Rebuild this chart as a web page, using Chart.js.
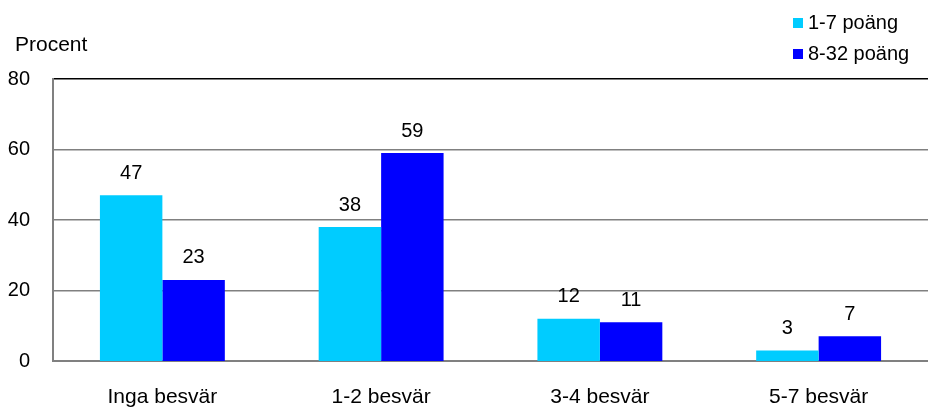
<!DOCTYPE html>
<html>
<head>
<meta charset="utf-8">
<script src="https://cdn.jsdelivr.net/npm/chart.js@4"></script>
<style>
  html, body { margin: 0; padding: 0; background: #fff; }
  #wrap { position: relative; width: 928px; height: 410px; font-family: "Liberation Sans", Arial, sans-serif; }
  #yTitle { position: absolute; left: 15px; top: 32px; font-size: 21px; color: #000; }
  #legend { position: absolute; left: 793px; top: 8px; font-size: 20px; color: #000; }
  .item { height: 31px; line-height: 28px; white-space: nowrap; }
  .box { display: inline-block; width: 10px; height: 10px; margin-right: 5px; vertical-align: 1px; }
</style>
</head>
<body>
<div id="wrap">
  <canvas id="chart" width="928" height="410"></canvas>
  <div id="yTitle">Procent</div>
  <div id="legend"></div>
</div>
<script>
// Data
const categories = ["Inga besvär", "1-2 besvär", "3-4 besvär", "5-7 besvär"];
const seriesNames = ["1-7 poäng", "8-32 poäng"];
const lowScore = [47, 38, 12, 3];
const highScore = [23, 59, 11, 7];
const yTicks = [0, 20, 40, 60, 80];

const colors = ["#00CCFF", "#0000FF"];

// Legend i HTML
const legendEl = document.getElementById("legend");
seriesNames.forEach(function (name, i) {
    const row = document.createElement("div");
    row.className = "item";
    row.innerHTML = '<span class="box" style="background:' + colors[i] + '"></span>' + name;
    legendEl.appendChild(row);
});

// Värden ovanför staplarna
const valueLabels = {
    id: "valueLabels",
    afterDatasetsDraw(chart) {
        const ctx = chart.ctx;
        ctx.save();
        ctx.font = '20px "Liberation Sans", Arial, sans-serif';
        ctx.fillStyle = "#000";
        ctx.textAlign = "center";
        ctx.textBaseline = "bottom";
        chart.data.datasets.forEach(function (ds, i) {
            chart.getDatasetMeta(i).data.forEach(function (bar, j) {
                ctx.fillText(ds.data[j], bar.x, bar.y - 12);
            });
        });
        ctx.restore();
    }
};

new Chart(document.getElementById("chart"), {
    type: "bar",
    data: {
        labels: categories,
        datasets: [
            { label: seriesNames[0], data: lowScore, backgroundColor: colors[0] },
            { label: seriesNames[1], data: highScore, backgroundColor: colors[1] }
        ]
    },
    options: {
        responsive: false,
        animation: false,
        layout: { padding: { top: 79, left: 0, right: 0, bottom: 0 } },
        datasets: { bar: { categoryPercentage: 0.571, barPercentage: 1.0 } },
        plugins: {
            legend: { display: false },
            tooltip: { enabled: false }
        },
        scales: {
            x: {
                grid: { display: false },
                border: { display: true, color: "#808080", width: 2 },
                ticks: {
                    color: "#000",
                    padding: 16,
                    font: { family: '"Liberation Sans", Arial, sans-serif', size: 21 }
                },
                afterFit(scale) { scale.height = 49; }
            },
            y: {
                min: 0,
                max: 80,
                afterBuildTicks(scale) { scale.ticks = yTicks.map(v => ({ value: v })); },
                grid: {
                    drawTicks: false,
                    color: ctx => (ctx.tick && ctx.tick.value === 80 ? "#000" : "#808080"),
                    lineWidth: ctx => (ctx.tick && ctx.tick.value === 0 ? 0 : 1.5)
                },
                border: { display: true, color: "#808080", width: 2 },
                ticks: {
                    color: "#000",
                    padding: 23,
                    font: { family: '"Liberation Sans", Arial, sans-serif', size: 20 }
                },
                afterFit(scale) { scale.width = 53; }
            }
        }
    },
    plugins: [valueLabels]
});
</script>
</body>
</html>
